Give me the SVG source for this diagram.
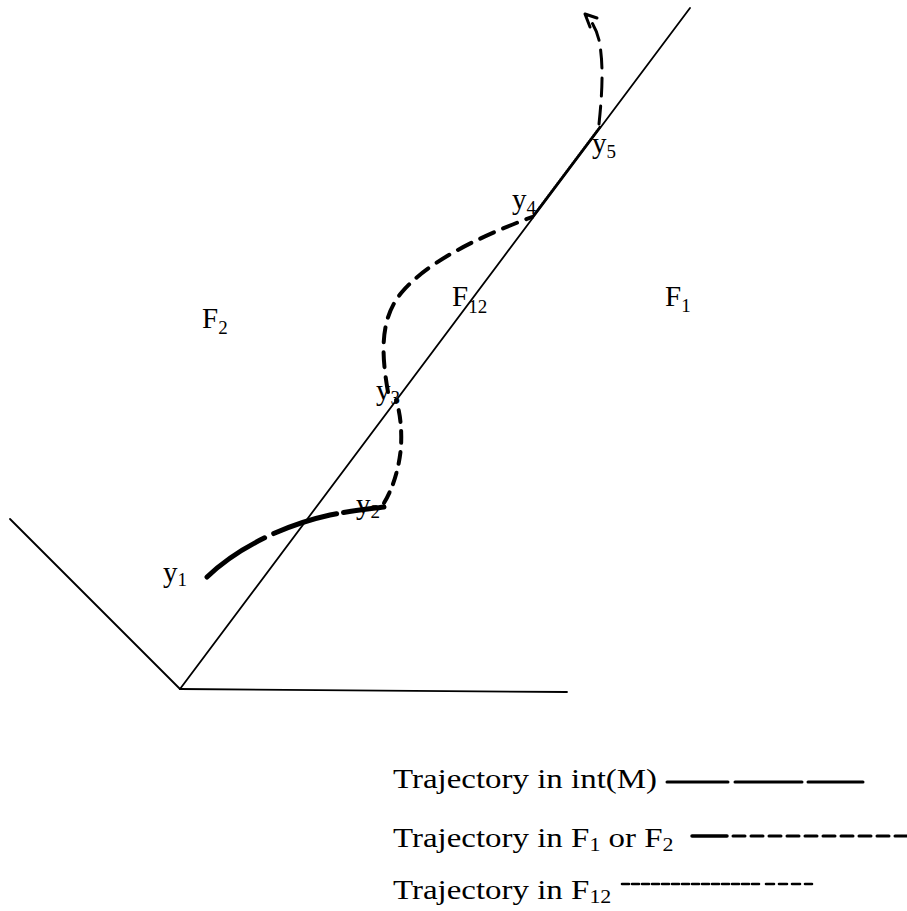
<svg xmlns="http://www.w3.org/2000/svg" width="907" height="911" viewBox="0 0 907 911">
<style>
  .ln { stroke:#000; fill:none; stroke-width:1.8; stroke-linecap:round; }
  .tr { stroke:#000; fill:none; stroke-linecap:round; }
  text { font-family:"Liberation Serif","Times New Roman",serif; fill:#000; }
  .lab { font-size:29px; }
  .sub { font-size:19px; }
  .leg { font-size:27px; }
  .lsub { font-size:18px; }
</style>
<rect width="907" height="911" fill="#fff"/>

<g id="boundaries">
  <line class="ln" x1="180" y1="689" x2="690" y2="8"/>
  <line class="ln" x1="10" y1="519" x2="180" y2="689"/>
  <line class="ln" x1="180" y1="689" x2="567" y2="692" stroke-width="2.2"/>
</g>

<g id="connectors">
  <!-- y1 to y2: interior trajectory -->
  <path class="tr" d="M207,577 C235,550 280,526 330,515 C355,510 370,509 384,507" stroke-width="5" stroke-dasharray="70 10 66 7 60"/>
  <!-- y2 to y3 -->
  <path class="tr" d="M384,503 C392,490 399,470 401,447 C402,428 400,412 396,400" stroke-width="4" stroke-dasharray="12 9"/>
  <!-- y3 to y4 -->
  <path class="tr" d="M388,392 C381,352 380,318 402,292 C425,265 470,240 532,217" stroke-width="4" stroke-dasharray="15 10"/>
  <!-- y4 to y5 along F12 -->
  <path class="tr" d="M533.2,216 L600,127" stroke-width="2.6" stroke-linecap="butt" stroke-dasharray="1.2 1.3"/>
  <!-- y5 onward -->
  <path class="tr" d="M599,124 C602,95 604,65 599,40 C596,28 591,20 586,15" stroke-width="3" stroke-dasharray="18 10"/>
  <path class="tr" d="M597,18 L585,14 L590,27" stroke-width="3" stroke-linejoin="round"/>
</g>

<g id="labels">
  <g id="F2"><text class="lab" x="202" y="328">F<tspan class="sub" dy="6">2</tspan></text></g>
  <g id="F12"><text class="lab" x="452" y="306">F<tspan class="sub" dy="7">12</tspan></text></g>
  <g id="F1"><text class="lab" x="665" y="306">F<tspan class="sub" dy="6">1</tspan></text></g>
  <g id="y1"><text class="lab" x="163" y="582">y<tspan class="sub" dy="4">1</tspan></text></g>
  <g id="y2"><text class="lab" x="356" y="514" font-size="26">y<tspan class="sub" dy="4">2</tspan></text></g>
  <g id="y3"><text class="lab" x="376" y="400" font-size="26">y<tspan class="sub" dy="4">3</tspan></text></g>
  <g id="y4"><text class="lab" x="512" y="209" font-size="26">y<tspan class="sub" dy="5">4</tspan></text></g>
  <g id="y5"><text class="lab" x="592" y="153" font-size="26">y<tspan class="sub" dy="5">5</tspan></text></g>
</g>

<g id="legend">
  <text class="leg" transform="translate(393 788) scale(1.22 1)" x="0" y="0">Trajectory in int(M)</text>
  <path class="tr" d="M667,782 H728 M735,782 H802 M808,782 H863" stroke-width="3"/>
  <text class="leg" transform="translate(393 847) scale(1.22 1)" x="0" y="0">Trajectory in F<tspan class="lsub" dy="4">1</tspan><tspan dy="-4"> or F</tspan><tspan class="lsub" dy="4">2</tspan></text>
  <path class="tr" d="M692,836 H727" stroke-width="3.5"/>
  <path class="tr" d="M733,836 H907" stroke-width="3" stroke-dasharray="12 6"/>
  <text class="leg" transform="translate(393 899) scale(1.22 1)" x="0" y="0">Trajectory in F<tspan class="lsub" dy="4">12</tspan></text>
  <path class="tr" d="M622,884 H760" stroke-width="2.6" stroke-dasharray="7 3"/>
  <path class="tr" d="M766,884 H812" stroke-width="2.6" stroke-dasharray="8 5"/>
</g>
</svg>
